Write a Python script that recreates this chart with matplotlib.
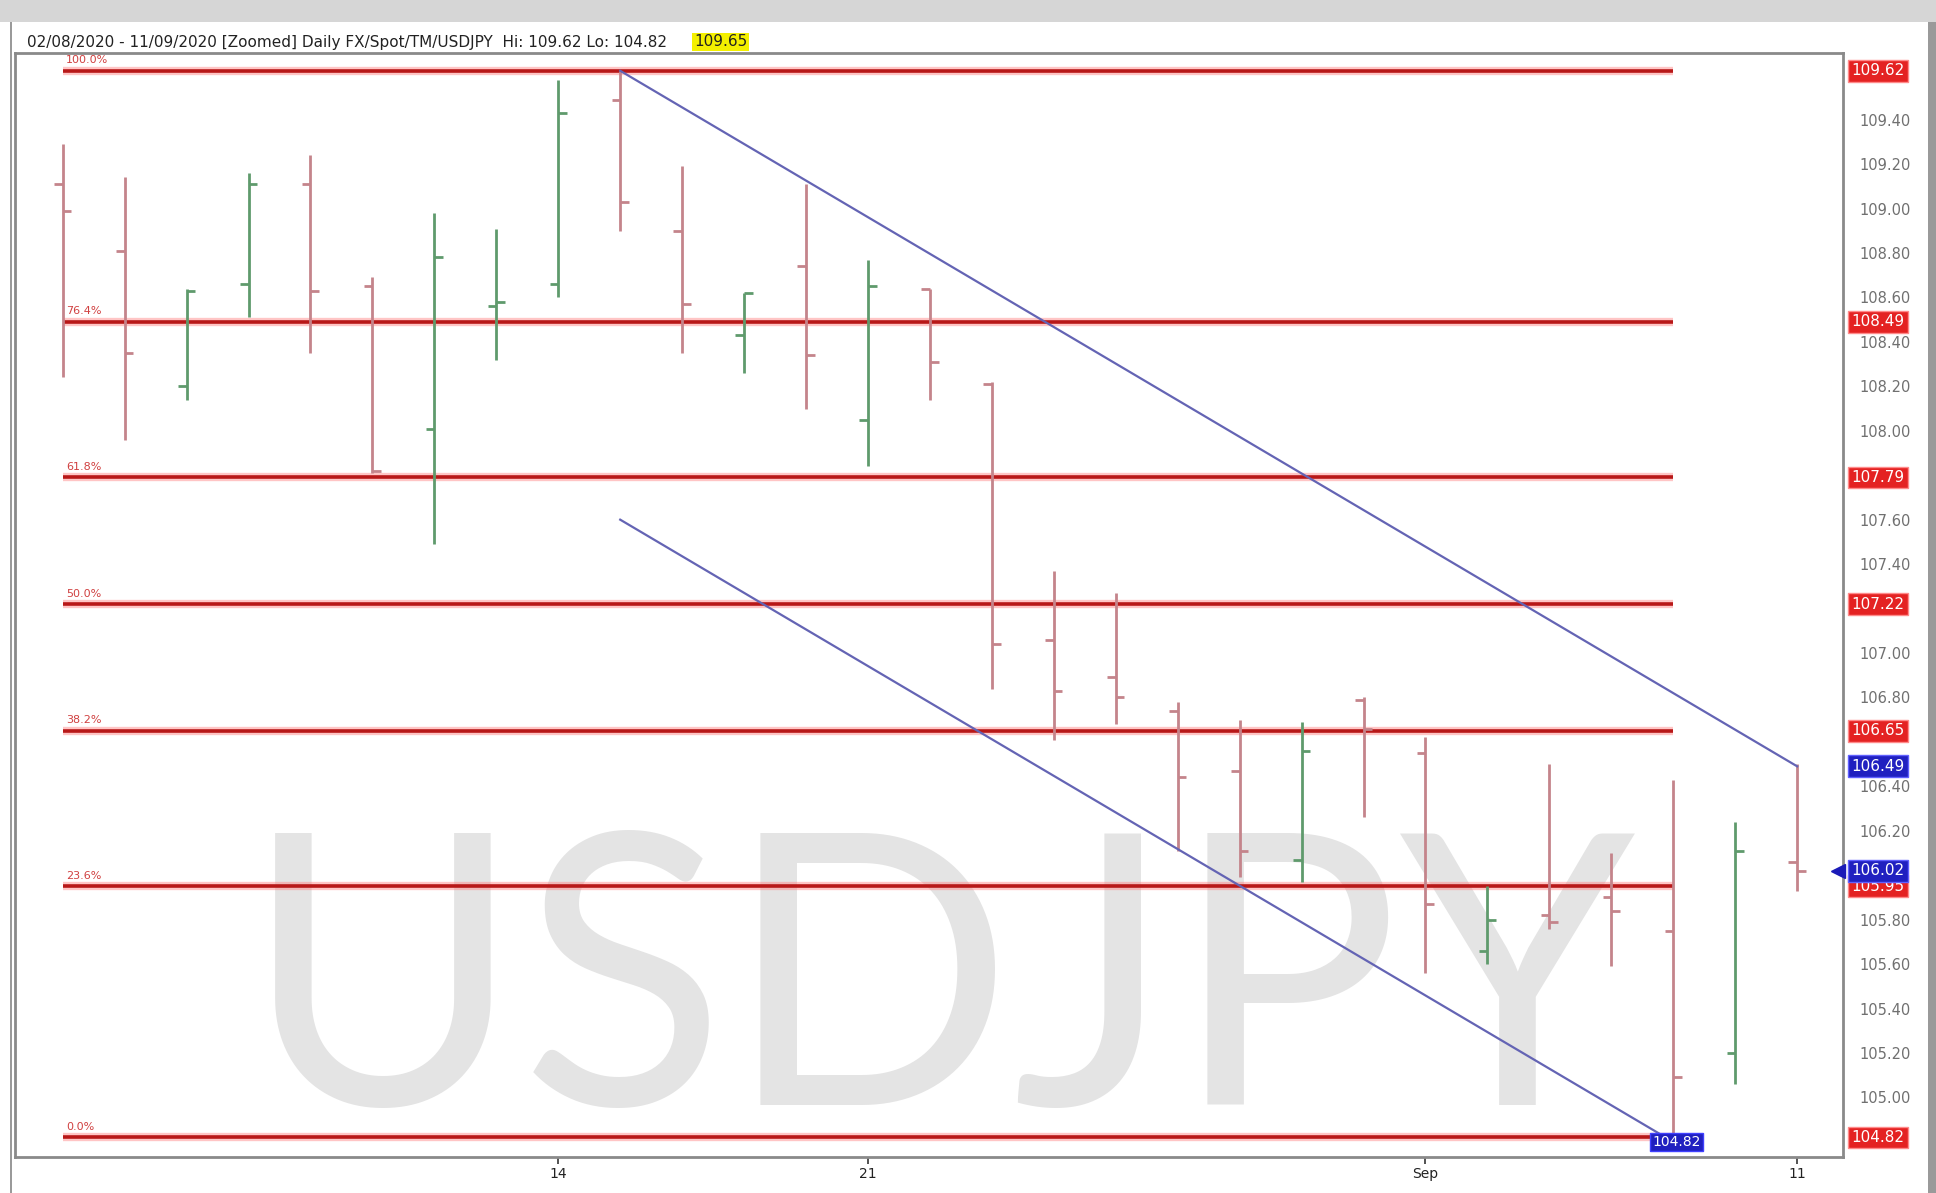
import matplotlib.pyplot as plt
from matplotlib.patches import Rectangle
from matplotlib.transforms import blended_transform_factory

plt.rcParams['font.family'] = ['DejaVu Sans']

# daily OHLC bars
opens = [109.11, 108.81, 108.20, 108.66, 109.11, 108.65, 108.01, 108.56, 108.66, 109.49,
         108.90, 108.43, 108.74, 108.05, 108.64, 108.21, 107.06, 106.89, 106.74, 106.47,
         106.07, 106.79, 106.55, 105.66, 105.82, 105.90, 105.75, 105.20, 106.06]
highs = [109.29, 109.14, 108.64, 109.16, 109.24, 108.69, 108.98, 108.91, 109.58, 109.62,
         109.19, 108.62, 109.11, 108.77, 108.64, 108.22, 107.37, 107.27, 106.78, 106.70,
         106.69, 106.80, 106.62, 105.95, 106.50, 106.10, 106.43, 106.24, 106.50]
lows = [108.24, 107.96, 108.14, 108.51, 108.35, 107.81, 107.49, 108.32, 108.60, 108.90,
        108.35, 108.26, 108.10, 107.84, 108.14, 106.84, 106.61, 106.68, 106.11, 105.99,
        105.97, 106.26, 105.56, 105.60, 105.76, 105.59, 104.82, 105.06, 105.93]
closes = [108.99, 108.35, 108.63, 109.11, 108.63, 107.82, 108.78, 108.58, 109.43, 109.03,
          108.57, 108.62, 108.34, 108.65, 108.31, 107.04, 106.83, 106.80, 106.44, 106.11,
          106.56, 106.66, 105.87, 105.80, 105.79, 105.84, 105.09, 106.11, 106.02]

date_ticks = [8, 13, 22, 28]
date_labels = ["14", "21", "Sep", "11"]

# gray price scale (levels hidden behind the coloured tags are left out)
price_ticks = [109.40, 109.20, 109.00, 108.80, 108.60, 108.40, 108.20, 108.00, 107.60, 107.40,
               107.00, 106.80, 106.40, 106.20, 105.80, 105.60, 105.40, 105.20, 105.00]

fib_labels = ["100.0%", "76.4%", "61.8%", "50.0%", "38.2%", "23.6%", "0.0%"]
fib_prices = [109.62, 108.49, 107.79, 107.22, 106.65, 105.95, 104.82]
fib_start, fib_end = 0, 26

chan_upper_x = [9, 28]
chan_upper_y = [109.62, 106.49]
chan_lower_x = [9, 26]
chan_lower_y = [107.60, 104.80]

last_price = 106.02

W, H = 1936, 1193
fig = plt.figure(figsize=(W / 100, H / 100), dpi=100)
fig.patch.set_facecolor('white')

# window chrome
fig.patches.append(Rectangle((0, 1 - 22 / H), 1, 22 / H, transform=fig.transFigure,
                             facecolor='#d6d6d6', edgecolor='none'))
fig.patches.append(Rectangle((1 - 8 / W, 0), 8 / W, 1 - 22 / H, transform=fig.transFigure,
                             facecolor='#9a9a9a', edgecolor='none'))
fig.patches.append(Rectangle((10 / W, 0), 2 / W, 1 - 22 / H, transform=fig.transFigure,
                             facecolor='#9a9a9a', edgecolor='none'))

left, right, top, bottom = 15, 1843, 53, 1157
ax = fig.add_axes([left / W, (H - bottom) / H, (right - left) / W, (bottom - top) / H])
ax.set_xlim(-0.77, 28.74)
ax.set_ylim(104.732, 109.70)

# watermark
ax.text(0.506, 0.047, "USDJPY", transform=ax.transAxes, ha='center', va='baseline',
        fontsize=272, color='#e4e4e4', zorder=0, family=['Lato', 'DejaVu Sans'])

# fibonacci levels
for lab, p in zip(fib_labels, fib_prices):
    ax.hlines(p, fib_start, fib_end, color='#ff8080', lw=6, alpha=0.45, zorder=2)
    ax.hlines(p, fib_start, fib_end, color='#b81818', lw=2.6, zorder=3)
    ax.text(fib_start + 0.05, p + 0.025, lab, fontsize=8, color='#d04040', va='bottom', zorder=3)

# OHLC bars
tick = 0.14
for i, (o, h, l, c) in enumerate(zip(opens, highs, lows, closes)):
    col = '#5f9a6c' if c >= o else '#c4848b'
    ax.vlines(i, l, h, color=col, lw=2.0, zorder=4)
    ax.hlines(o, i - tick, i, color=col, lw=2.0, zorder=4)
    ax.hlines(c, i, i + tick, color=col, lw=2.0, zorder=4)

# trend channel
ax.plot(chan_upper_x, chan_upper_y, color='#6464b4', lw=1.6, zorder=5)
ax.plot(chan_lower_x, chan_lower_y, color='#6464b4', lw=1.6, zorder=5)
ax.text(chan_lower_x[1] + 0.05, chan_lower_y[1], f"{chan_lower_y[1] + 0.02:.2f}", fontsize=10,
        color='white', ha='center', va='center', zorder=6,
        bbox=dict(boxstyle='square,pad=0.15', facecolor='#2020c0', edgecolor='#4040ff'))

# axes frame
for s in ax.spines.values():
    s.set_color('#8a8a8a')
    s.set_linewidth(2)

ax.yaxis.tick_right()
ax.set_yticks(price_ticks)
ax.set_yticklabels([f"{v:.2f}" for v in price_ticks])
ax.tick_params(axis='y', length=0, labelsize=10.5, labelcolor='#707070', pad=12)
ax.set_xticks(date_ticks)
ax.set_xticklabels(date_labels)
ax.tick_params(axis='x', length=5, width=1.2, color='#333333', labelsize=10, labelcolor='#222222', pad=2)

# right-side price tags
tr = blended_transform_factory(ax.transAxes, ax.transData)
tag_x = 1.0045
for p in fib_prices:
    ax.text(tag_x, p, f"{p:.2f}", transform=tr, fontsize=11, color='white', ha='left', va='center',
            clip_on=False, zorder=10,
            bbox=dict(boxstyle='square,pad=0.22', facecolor='#e42222', edgecolor='#ff8a8a'))
ax.text(tag_x, chan_upper_y[1], f"{chan_upper_y[1]:.2f}", transform=tr, fontsize=11, color='white',
        ha='left', va='center', clip_on=False, zorder=11,
        bbox=dict(boxstyle='square,pad=0.22', facecolor='#2020c0', edgecolor='#6060ff'))
ax.text(tag_x, last_price, f"{last_price:.2f}", transform=tr, fontsize=11, color='white',
        ha='left', va='center', clip_on=False, zorder=11,
        bbox=dict(boxstyle='square,pad=0.22', facecolor='#2020c0', edgecolor='#6060ff'))
ax.plot([0.997], [last_price], marker='<', markersize=10, color='#1a1ab8', transform=tr,
        clip_on=False, zorder=11)

# header line
fig.text(27 / W, 1 - 42 / H,
         "02/08/2020 - 11/09/2020 [Zoomed] Daily FX/Spot/TM/USDJPY  Hi: 109.62 Lo: 104.82",
         fontsize=11, color='#222222', va='center', ha='left')
fig.text(694 / W, 1 - 42 / H, "109.65", fontsize=11, color='#222222', va='center', ha='left',
         bbox=dict(boxstyle='square,pad=0.1', facecolor='#f4f000', edgecolor='none'))

fig.savefig("out.png", dpi=100)
